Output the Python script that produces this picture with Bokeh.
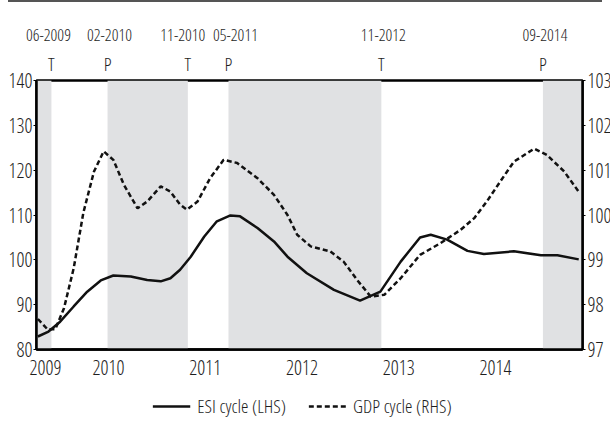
from bokeh.plotting import figure
from bokeh.models import (Range1d, LinearAxis, FixedTicker, BoxAnnotation, Legend,
                          LegendItem, Div)
from bokeh.layouts import column
from bokeh.embed import file_html
from bokeh.resources import INLINE

# ---- data (decimal years) ----
esi_t = [2009.27, 2009.38, 2009.50, 2009.64, 2009.78, 2009.92, 2010.05, 2010.23, 2010.40,
         2010.54, 2010.64, 2010.74, 2010.85, 2010.99, 2011.12, 2011.26, 2011.36, 2011.54,
         2011.71, 2011.85, 2012.05, 2012.33, 2012.60, 2012.81, 2013.02, 2013.22, 2013.33,
         2013.50, 2013.71, 2013.88, 2014.19, 2014.47, 2014.64, 2014.86]
esi_v = [82.9, 84.0, 86.2, 89.6, 92.9, 95.4, 96.5, 96.3, 95.5,
         95.2, 95.9, 97.8, 100.7, 105.2, 108.6, 109.9, 109.7, 107.1,
         104.1, 100.7, 97.0, 93.3, 90.9, 92.9, 99.6, 105.0, 105.6,
         104.5, 102.0, 101.3, 101.9, 101.0, 101.0, 100.1]

gdp_t = [2009.27, 2009.37, 2009.45, 2009.54, 2009.64, 2009.74, 2009.85, 2009.95, 2010.05,
         2010.16, 2010.30, 2010.40, 2010.54, 2010.64, 2010.74, 2010.81, 2010.92, 2011.05,
         2011.19, 2011.33, 2011.54, 2011.71, 2011.85, 2011.95, 2012.09, 2012.29, 2012.43,
         2012.57, 2012.71, 2012.85, 2013.02, 2013.22, 2013.43, 2013.64, 2013.78, 2013.91,
         2014.05, 2014.19, 2014.40, 2014.53, 2014.71, 2014.86]
gdp_v = [97.68, 97.45, 97.45, 97.92, 98.81, 100.05, 100.97, 101.42, 101.23,
         100.67, 100.15, 100.30, 100.64, 100.52, 100.23, 100.12, 100.30, 100.82,
         101.23, 101.16, 100.82, 100.45, 100.00, 99.56, 99.30, 99.19, 98.96,
         98.55, 98.18, 98.22, 98.59, 99.11, 99.37, 99.67, 99.93, 100.30,
         100.75, 101.19, 101.48, 101.34, 100.97, 100.52]

# turning points
turn_x = [2009.41, 2009.99, 2010.82, 2011.24, 2012.82, 2014.49]
turn_dates = ["06-2009", "02-2010", "11-2010", "05-2011", "11-2012", "09-2014"]
turn_type = ["T", "P", "T", "P", "T", "P"]

# shaded periods
band_left = [2009.256, 2009.99, 2011.24, 2014.49]
band_right = [2009.41, 2010.82, 2012.82, 2014.899]

year_ticks = [2009.35, 2010, 2011, 2012, 2013, 2014]
year_labels = ["2009", "2010", "2011", "2012", "2013", "2014"]

FONT = "Open Sans Condensed Light"
TXT = "#1e1e1e"
X0, X1 = 2009.2558, 2014.899
FRAME_W = 546
PX_PER_YEAR = FRAME_W / (X1 - X0)

p = figure(frame_width=FRAME_W, frame_height=269, output_backend="svg", toolbar_location=None,
           x_range=Range1d(X0, X1), y_range=Range1d(80, 140),
           min_border_left=36, min_border_right=28, min_border_top=77, min_border_bottom=36)
p.xaxis.visible = False
p.yaxis.visible = False
p.xgrid.visible = False
p.ygrid.visible = False
p.outline_line_color = "black"
p.outline_line_width = 2.5
p.background_fill_color = "white"
p.border_fill_color = "white"

for l, r in zip(band_left, band_right):
    p.add_layout(BoxAnnotation(left=l, right=r, fill_color="#e0e1e3", fill_alpha=1.0,
                               line_color=None, level="underlay"))

p.extra_y_ranges = {"gdp": Range1d(97, 103)}


def style_axis(ax, size="20px"):
    ax.axis_line_color = "black"
    ax.axis_line_width = 2.5
    ax.major_tick_line_color = "black"
    ax.major_tick_line_width = 1
    ax.major_tick_in = 0
    ax.minor_tick_line_color = None
    ax.major_label_text_font = FONT
    ax.major_label_text_font_size = size
    ax.major_label_text_color = TXT


ly = LinearAxis(ticker=FixedTicker(ticks=[80, 90, 100, 110, 120, 130, 140]))
style_axis(ly)
ly.major_tick_out = 3
ly.major_label_standoff = 1
p.add_layout(ly, "left")

ry = LinearAxis(y_range_name="gdp", ticker=FixedTicker(ticks=[97, 98, 99, 100, 101, 102, 103]))
style_axis(ry)
ry.major_tick_out = 3
ry.major_label_standoff = 2
p.add_layout(ry, "right")

bx = LinearAxis(ticker=FixedTicker(ticks=year_ticks),
                major_label_overrides={t: s for t, s in zip(year_ticks, year_labels)})
style_axis(bx)
bx.major_tick_out = 0
bx.major_label_standoff = 10
p.add_layout(bx, "below")

# turning-point letters
tp = LinearAxis(ticker=FixedTicker(ticks=turn_x),
                major_label_overrides={t: s for t, s in zip(turn_x, turn_type)})
style_axis(tp, "19px")
tp.axis_line_color = None
tp.major_tick_line_color = None
tp.major_tick_out = 0
tp.major_label_standoff = 4
p.add_layout(tp, "above")

# turning-point dates, nudged apart where crowded
nudge_px = [-3, 2, -5, 7, 2, 2]
date_pos = [x + n / PX_PER_YEAR for x, n in zip(turn_x, nudge_px)]
dt = LinearAxis(ticker=FixedTicker(ticks=date_pos),
                major_label_overrides={t: s for t, s in zip(date_pos, turn_dates)})
style_axis(dt, "17px")
dt.axis_line_color = None
dt.major_tick_line_color = None
dt.major_tick_out = 0
dt.major_label_standoff = 7
p.add_layout(dt, "above")

p.line(esi_t, esi_v, line_color="#111111", line_width=2.5)
p.line(gdp_t, gdp_v, y_range_name="gdp", line_color="#111111", line_width=2.5, line_dash="5 3")

# legend strip (series drawn outside its visible range, only the legend shows)
lg = figure(width=600, height=42, output_backend="svg", toolbar_location=None,
            x_range=Range1d(0, 1), y_range=Range1d(0, 1),
            min_border=0, min_border_left=0, min_border_right=0, min_border_top=0,
            min_border_bottom=0)
lg.axis.visible = False
lg.grid.visible = False
lg.outline_line_color = None
d_esi = lg.line(esi_t, esi_v, line_color="#111111", line_width=2.5)
d_gdp = lg.line(gdp_t, gdp_v, line_color="#111111", line_width=2.5, line_dash="5 3")
leg = Legend(items=[LegendItem(label="ESI cycle (LHS)", renderers=[d_esi]),
                    LegendItem(label="GDP cycle (RHS)", renderers=[d_gdp])],
             orientation="horizontal", location="center", border_line_color=None,
             background_fill_alpha=0, glyph_width=38, glyph_height=20, label_standoff=7,
             spacing=22, label_text_font=FONT, label_text_font_size="19px",
             label_text_color=TXT, padding=10, margin=0)
lg.add_layout(leg, "center")

top = Div(text="", width=594, height=3, margin=(0, 0, 0, 8),
          styles={"border-top": "2px solid #555555"})
lay = column(top, p, lg, spacing=0)
open("out.html", "w").write(file_html(lay, INLINE))
